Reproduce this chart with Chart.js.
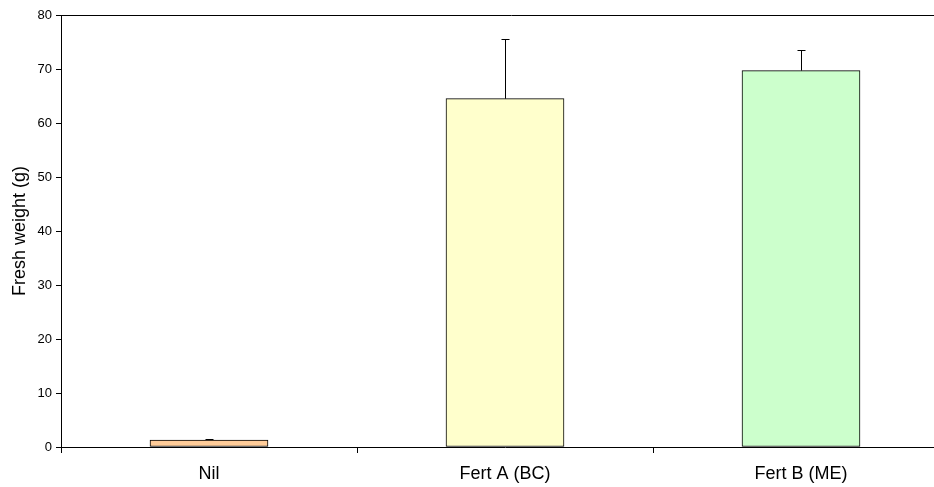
<!DOCTYPE html>
<html>
<head>
<meta charset="utf-8">
<script src="https://cdn.jsdelivr.net/npm/chart.js@4/dist/chart.umd.min.js"></script>
<style>
  html, body { margin: 0; padding: 0; background: #fff; overflow: hidden; }
  .wrap { width: 962px; height: 487px; }
</style>
</head>
<body>
<div class="wrap"><canvas id="myChart" width="962" height="487"></canvas></div>
<script>
const categories = ['Nil', 'Fert A (BC)', 'Fert B (ME)'];
const freshWeight = [1.3, 64.5, 69.7];
const errorUp = [0.1, 11.0, 3.9];
const barColors = ['#FFCC99', '#FFFFCC', '#CCFFCC'];
const yTicks = [0, 10, 20, 30, 40, 50, 60, 70, 80];

const ctx = document.getElementById('myChart').getContext('2d');

// error bars (upper only) and the top frame line
const errorBars = {
  id: 'errorBars',
  afterDatasetsDraw(chart) {
    const { ctx: c, chartArea, scales } = chart;
    const meta = chart.getDatasetMeta(0);
    c.save();
    c.strokeStyle = '#000';
    c.lineWidth = 1;
    meta.data.forEach((bar, i) => {
      const x = Math.round(bar.x) + 0.5;
      const yBase = scales.y.getPixelForValue(freshWeight[i]);
      const yTop = Math.round(scales.y.getPixelForValue(freshWeight[i] + errorUp[i])) + 0.5;
      c.beginPath();
      c.moveTo(x, yBase);
      c.lineTo(x, yTop);
      c.moveTo(x - 4, yTop);
      c.lineTo(x + 4, yTop);
      c.stroke();
    });
    c.beginPath();
    c.moveTo(chartArea.left, chartArea.top + 0.5);
    c.lineTo(chart.width, chartArea.top + 0.5);
    c.stroke();
    c.restore();
  },
};

const chart = new Chart(ctx, {
  type: 'bar',
  data: {
    labels: categories,
    datasets: [{
      data: freshWeight,
      backgroundColor: barColors,
      borderColor: '#000',
      borderWidth: 1,
      borderSkipped: false,
      barThickness: 118,
    }],
  },
  options: {
    responsive: false,
    animation: false,
    layout: { padding: { top: 15, right: 13, left: 0, bottom: 0 } },
    plugins: { legend: { display: false }, tooltip: { enabled: false } },
    scales: {
      x: {
        grid: { offset: true, drawOnChartArea: false, tickLength: 6, color: '#000' },
        border: { color: '#000', width: 1 },
        ticks: { color: '#000', font: { family: 'Liberation Sans', size: 18 }, padding: 10 },
        afterFit(scale) { scale.height = 40; },
      },
      y: {
        min: 0,
        max: 80,
        afterBuildTicks(scale) { scale.ticks = yTicks.map((v) => ({ value: v })); },
        grid: { drawOnChartArea: false, tickLength: 5, color: '#000' },
        border: { color: '#000', width: 1 },
        ticks: { color: '#000', font: { family: 'Liberation Sans', size: 13 }, padding: 4 },
        title: {
          display: true,
          text: 'Fresh weight (g)',
          color: '#000',
          font: { family: 'Liberation Sans', size: 18 },
          padding: { top: 9, bottom: 4 },
        },
        afterFit(scale) { scale.width = 61; },
      },
    },
  },
  plugins: [errorBars],
});
</script>
</body>
</html>
